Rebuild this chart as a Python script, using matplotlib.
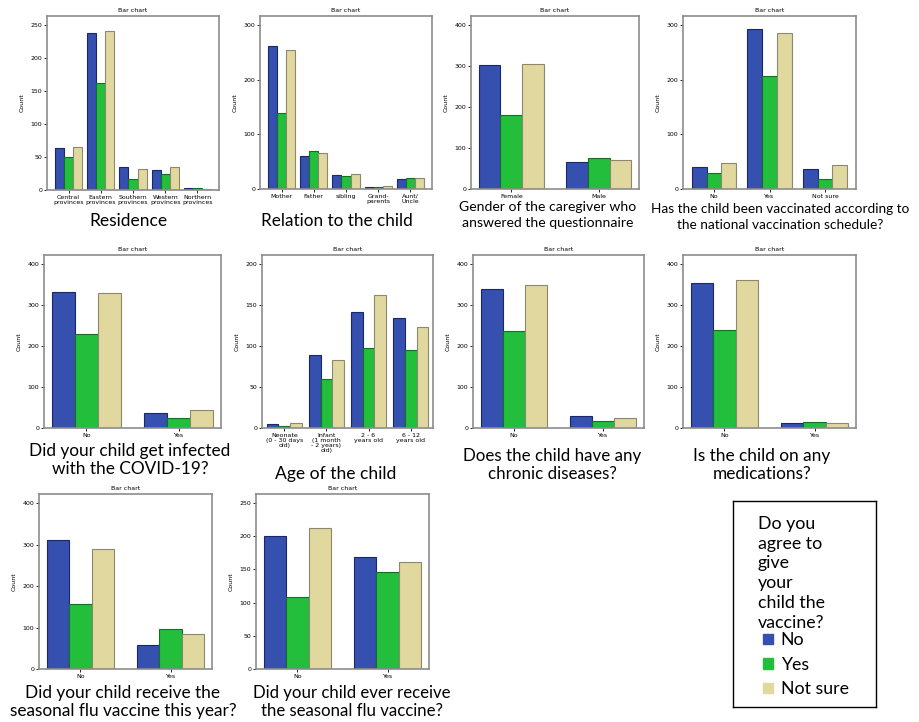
#Grid of grouped bar charts: willingness to vaccinate the child by characteristics
import matplotlib.pyplot as plt
import numpy as np
from matplotlib.patches import Patch

#Series names and colours
groups = ['No', 'Yes', 'Not sure']
fill_colors = ['#3550ae', '#23be3c', '#e0d89e']
edge_colors = ['#1b2868', '#127026', '#8c8870']

#Data (No, Yes, Not sure)
residence_cats = ['Central\nprovinces', 'Eastern\nprovinces', 'Southern\nprovinces', 'Western\nprovinces', 'Northern\nprovinces']
residence_no = [63, 238, 35, 31, 3]
residence_yes = [50, 162, 17, 24, 3]
residence_ns = [65, 241, 32, 35, 2]

relation_cats = ['Mother', 'Father', 'sibling', 'Grand-\nparents', 'Aunt/\nUncle']
relation_no = [262, 60, 25, 3, 19]
relation_yes = [139, 69, 23, 3, 20]
relation_ns = [254, 65, 28, 5, 21]

gender_cats = ['Female', 'Male']
gender_no = [303, 67]
gender_yes = [181, 75]
gender_ns = [304, 70]

schedule_cats = ['No', 'Yes', 'Not sure']
schedule_no = [41, 293, 36]
schedule_yes = [30, 207, 18]
schedule_ns = [47, 285, 44]

covid_cats = ['No', 'Yes']
covid_no = [332, 36]
covid_yes = [229, 25]
covid_ns = [330, 43]

age_cats = ['Neonate\n(0 - 30 days\nold)', 'Infant\n(1 month\n- 2 years)\nold)', '2 - 6\nyears old', '6 - 12\nyears old']
age_no = [5, 89, 142, 134]
age_yes = [3, 60, 98, 95]
age_ns = [6, 83, 162, 123]

chronic_cats = ['No', 'Yes']
chronic_no = [338, 29]
chronic_yes = [237, 17]
chronic_ns = [349, 24]

medic_cats = ['No', 'Yes']
medic_no = [354, 13]
medic_yes = [239, 15]
medic_ns = [362, 11]

flu_year_cats = ['No', 'Yes']
flu_year_no = [310, 59]
flu_year_yes = [157, 97]
flu_year_ns = [289, 84]

flu_ever_cats = ['No', 'Yes']
flu_ever_no = [201, 169]
flu_ever_yes = [109, 146]
flu_ever_ns = [213, 161]

captions = ['Residence', 'Relation to the child',
            'Gender of the caregiver who\nanswered the questionnaire',
            'Has the child been vaccinated according to\nthe national vaccination schedule?',
            'Did your child get infected\nwith the COVID-19?', 'Age of the child',
            'Does the child have any\nchronic diseases?', 'Is the child on any\nmedications?',
            'Did your child receive the\nseasonal flu vaccine this year?',
            'Did your child ever receive\nthe seasonal flu vaccine?']
legend_title = 'Do you\nagree to\ngive\nyour\nchild the\nvaccine?'

data = [(residence_cats, residence_no, residence_yes, residence_ns),
        (relation_cats, relation_no, relation_yes, relation_ns),
        (gender_cats, gender_no, gender_yes, gender_ns),
        (schedule_cats, schedule_no, schedule_yes, schedule_ns),
        (covid_cats, covid_no, covid_yes, covid_ns),
        (age_cats, age_no, age_yes, age_ns),
        (chronic_cats, chronic_no, chronic_yes, chronic_ns),
        (medic_cats, medic_no, medic_yes, medic_ns),
        (flu_year_cats, flu_year_no, flu_year_yes, flu_year_ns),
        (flu_ever_cats, flu_ever_no, flu_ever_yes, flu_ever_ns)]

y_ticks = [(250, 50), (300, 100), (400, 100), (300, 100), (400, 100),
           (200, 50), (400, 100), (400, 100), (400, 100), (250, 50)]

#Layout in pixels: axes box (left, top, right, bottom), caption (x centre, y top), caption size
W, H = 919, 722
boxes = [(47, 16, 219, 190), (260, 16, 432, 189), (471, 16, 639, 189), (683, 16, 856, 189),
         (44, 255, 221, 428), (262, 255, 433, 428), (473, 255, 644, 428), (683, 255, 856, 428),
         (39, 494, 212, 669), (256, 494, 429, 669)]
cap_pos = [(128, 213), (337, 213), (548, 201), (780, 203),
           (130, 443), (336, 466), (552, 448), (762, 448),
           (123, 685), (352, 685)]
cap_size = [12.5, 12.3, 10.1, 9.8, 12.4, 12.6, 12.2, 12.4, 12.4, 12.1]
cap_font = 'Lato'

fig = plt.figure(figsize=(W/100, H/100), dpi=100)

for (cats, no, yes, ns), (ymx, step), (l, t, r, b), cap, (cx, cy), fs in zip(data, y_ticks, boxes, captions, cap_pos, cap_size):
    ax = fig.add_axes([l/W, 1-b/H, (r-l)/W, (b-t)/H])
    n = len(cats)
    x = np.arange(n)
    gw = 0.84 if n >= 4 else (0.8 if n == 3 else 0.74)
    bw = gw/3
    for k, vals in enumerate([no, yes, ns]):
        ax.bar(x + (k-1)*bw, vals, width=bw, color=fill_colors[k], edgecolor=edge_colors[k], linewidth=0.8)
    pad = 0.67 if n >= 5 else (0.53 if n == 4 else (0.56 if n == 3 else 0.46))
    ax.set_xlim(-pad, n-1+pad)
    ax.set_ylim(0, ymx*1.055)
    ax.set_yticks(np.arange(0, ymx+1, step))
    ax.set_xticks(x)
    ax.set_xticklabels(cats, fontsize=4.5, linespacing=1.0)
    ax.tick_params(axis='y', labelsize=4.5, length=2, width=0.6, pad=1.5)
    ax.tick_params(axis='x', length=2, width=0.6, pad=1.5)
    ax.set_ylabel('Count', fontsize=4.5, labelpad=4)
    ax.set_title('Bar chart', fontsize=4.5, pad=3)
    for s in ax.spines.values():
        s.set_color('#8c8c8c')
        s.set_linewidth(1.2)
    fig.text(cx/W, 1-cy/H, cap, ha='center', va='top', fontsize=fs, family=cap_font,
             linespacing=1.15 if fs > 11 else 1.4)

#Legend box
lax = fig.add_axes([733/W, 1-707/H, (876-733)/W, (707-501)/H])
lax.set_xticks([])
lax.set_yticks([])
for s in lax.spines.values():
    s.set_color('black')
    s.set_linewidth(1.0)
lax.text(0.173, 0.929, legend_title, transform=lax.transAxes, ha='left', va='top',
         fontsize=12.8, family=cap_font, linespacing=1.3)
handles = [Patch(facecolor=fill_colors[k], edgecolor=fill_colors[k]) for k in range(3)]
leg = lax.legend(handles, groups, loc='upper left', bbox_to_anchor=(0.185, 0.38), frameon=False,
                 prop={'family': cap_font, 'size': 12.8}, handlelength=0.55, handleheight=0.55,
                 handletextpad=0.45, labelspacing=0.48, borderpad=0.2, borderaxespad=0)

plt.savefig('out.png', dpi=100)
